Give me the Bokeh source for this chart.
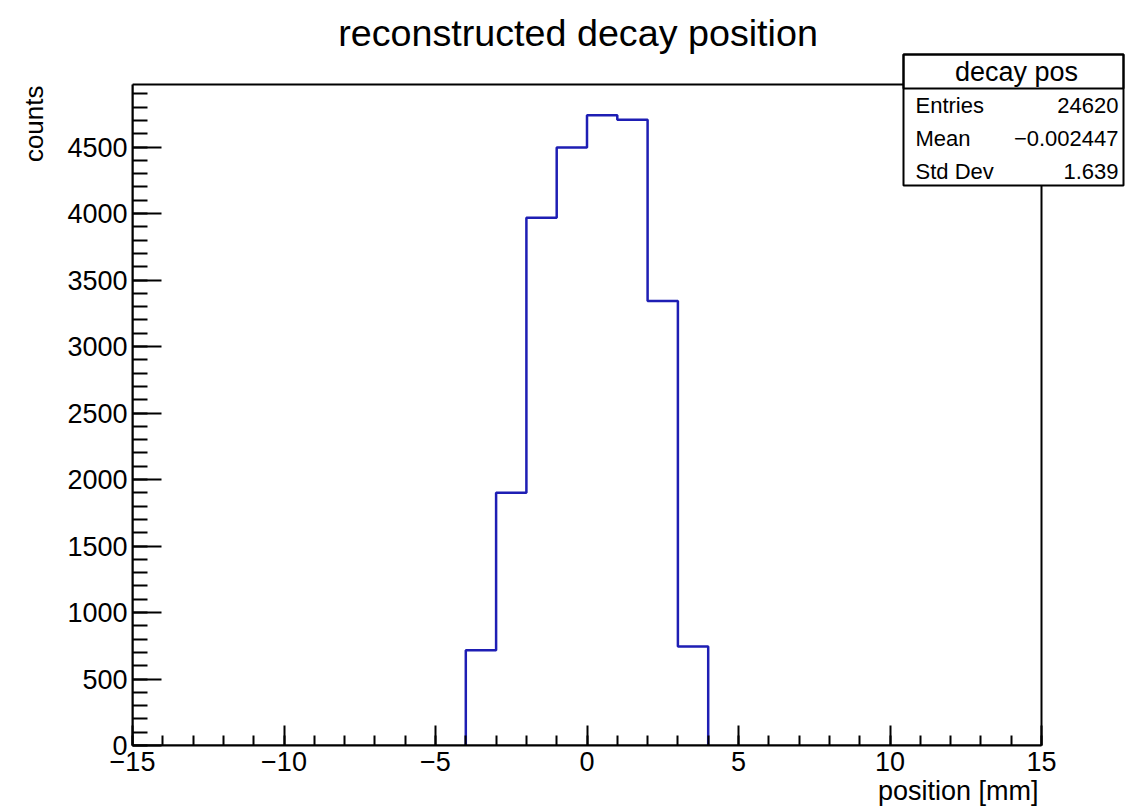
import numpy as np
from bokeh.plotting import figure
from bokeh.models import (Range1d, SingleIntervalTicker, Label, BoxAnnotation)
from bokeh.embed import file_html
from bokeh.resources import INLINE

# ---- data ----
bin_edges = [-4, -3, -2, -1, 0, 1, 2, 3, 4]
counts = [717, 1900, 3968, 4497, 4738, 4705, 3342, 745]
x_ticks = [-15, -10, -5, 0, 5, 10, 15]
x_tick_labels = ["\u221215", "\u221210", "\u22125", "0", "5", "10", "15"]
title_text = "reconstructed decay position"
x_label = "position [mm]"
y_label = "counts"
stats_title = "decay pos"
stats_names = ["Entries", "Mean", "Std Dev"]
stats_values = ["24620", "\u22120.002447", "1.639"]

FONT = "Liberation Sans"
# axis (ROOT frame) extent in data units
X0, X1 = -15.0, 15.0
Y0, Y1 = 0.0, 4970.0
# canvas and ROOT-frame geometry (pixels)
W, H = 1127, 809
RL, RR, RT, RB = 132, 1041, 84, 745

SX = (X1 - X0) / (RR - RL)   # data per pixel, x
SY = (Y1 - Y0) / (RB - RT)   # data per pixel, y


def dx(px):
    return X0 + (px - RL) * SX


def dy(py):
    return Y0 + (RB - py) * SY


# bokeh frame covers the ROOT frame plus the area above / right of it
p = figure(width=W, height=H, output_backend="svg", toolbar_location=None,
           x_range=Range1d(X0, dx(W)), y_range=Range1d(Y0, dy(0)),
           min_border_left=RL, min_border_top=0,
           min_border_right=0, min_border_bottom=H - RB)
p.background_fill_color = "white"
p.border_fill_color = "white"
p.outline_line_color = None
p.xgrid.visible = False
p.ygrid.visible = False

# ROOT frame box
p.add_layout(BoxAnnotation(left=X0, right=X1, bottom=Y0, top=Y1,
                           fill_alpha=0.0, line_color="black", line_width=2,
                           line_alpha=1.0))

# histogram outline
xs, ys = [bin_edges[0]], [0]
for i, c in enumerate(counts):
    xs += [bin_edges[i], bin_edges[i + 1]]
    ys += [c, c]
xs.append(bin_edges[-1])
ys.append(0)
p.line(xs, ys, line_color="#1e1eb4", line_width=2.5)

# axes
for ax in (p.xaxis[0], p.yaxis[0]):
    ax.axis_line_color = "black"
    ax.axis_line_width = 2
    ax.major_tick_line_color = "black"
    ax.minor_tick_line_color = "black"
    ax.major_tick_line_width = 2
    ax.minor_tick_line_width = 2
    ax.major_tick_out = 0
    ax.minor_tick_out = 0
    ax.major_label_text_font = FONT
    ax.major_label_text_font_size = "27px"
    ax.major_label_text_color = "black"

p.xaxis.bounds = (X0, X1)
p.xaxis.ticker = SingleIntervalTicker(interval=5, num_minor_ticks=5)
p.xaxis.major_tick_in = 20
p.xaxis.minor_tick_in = 10
p.xaxis.major_label_standoff = 6
p.xaxis.major_label_overrides = {t: l for t, l in zip(x_ticks, x_tick_labels)}

p.yaxis.bounds = (Y0, Y1)
p.yaxis.ticker = SingleIntervalTicker(interval=500, num_minor_ticks=5)
p.yaxis.major_tick_in = 29
p.yaxis.minor_tick_in = 15
p.yaxis.major_label_standoff = 5

# title
p.add_layout(Label(x=dx(577.5), y=dy(32), text=title_text, text_font=FONT,
                   text_font_size="37.7px", text_align="center",
                   text_baseline="middle", text_color="black"))
# axis titles (in side panels, so they are drawn outside the frame)
p.add_layout(Label(x=dx(1038), y=dy(790), text=x_label, text_font=FONT,
                   text_font_size="27px", text_align="right",
                   text_baseline="middle", text_color="black"), "below")
p.add_layout(Label(x=dx(33), y=dy(85), text=y_label, text_font=FONT,
                   text_font_size="26px", text_align="right", angle=np.pi / 2,
                   text_baseline="middle", text_color="black"), "left")

# stats box
p.add_layout(BoxAnnotation(left=dx(903), right=dx(1123), top=dy(54), bottom=dy(185),
                           fill_color="white", fill_alpha=1.0,
                           line_color="black", line_width=2, line_alpha=1.0))
p.add_layout(BoxAnnotation(left=dx(903), right=dx(1123), top=dy(54), bottom=dy(88),
                           fill_alpha=0.0, line_color="black", line_width=2,
                           line_alpha=1.0))
p.add_layout(Label(x=dx(1016), y=dy(71), text=stats_title, text_font=FONT,
                   text_font_size="27px", text_align="center",
                   text_baseline="middle", text_color="black"))
row_y = [105, 138, 171]
for name, val, ry in zip(stats_names, stats_values, row_y):
    p.add_layout(Label(x=dx(915), y=dy(ry), text=name, text_font=FONT,
                       text_font_size="22px", text_align="left",
                       text_baseline="middle", text_color="black"))
    p.add_layout(Label(x=dx(1118), y=dy(ry), text=val, text_font=FONT,
                       text_font_size="22px", text_align="right",
                       text_baseline="middle", text_color="black"))

open("out.html", "w").write(file_html(p, INLINE))
